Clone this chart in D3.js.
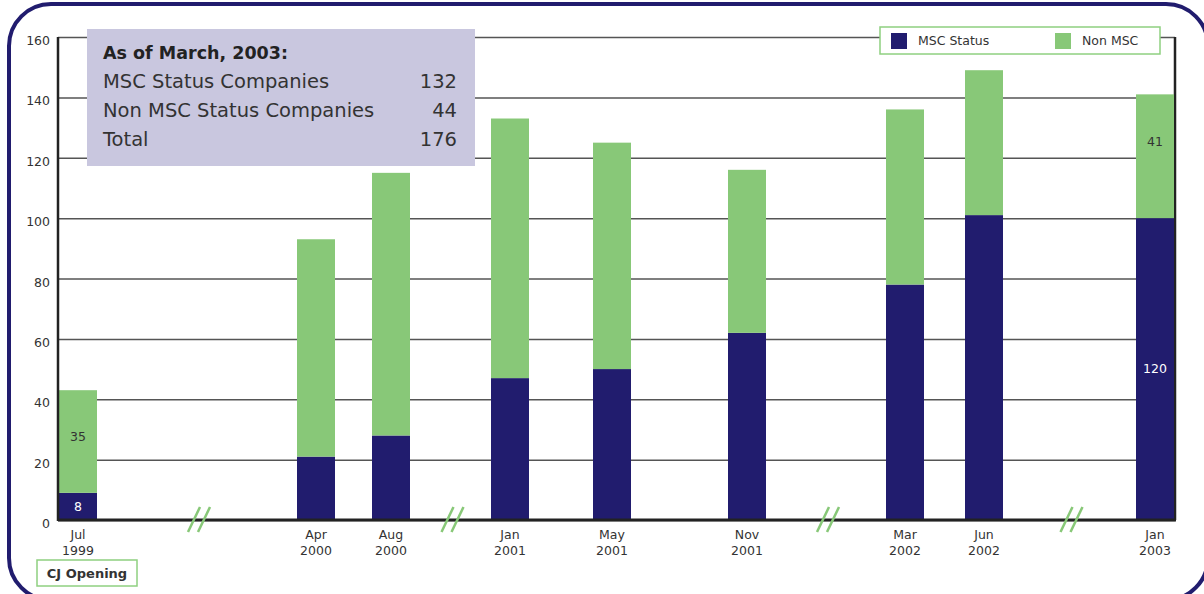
<!DOCTYPE html>
<html lang="en">
<head>
    <meta charset="UTF-8">
    <title>MSC companies</title>
    <script src="https://cdn.jsdelivr.net/npm/d3@7"></script>
    <style>
        body { margin: 0; background: #fff; font-family: 'DejaVu Sans', sans-serif; }
        svg { display: block; }
        text { fill: #333; }
    </style>
</head>
<body>
<div id="chart"></div>
<script type="text/javascript">
    // data
    var months = ["Jul", "Apr", "Aug", "Jan", "May", "Nov", "Mar", "Jun", "Jan"];
    var years = ["1999", "2000", "2000", "2001", "2001", "2001", "2002", "2002", "2003"];
    var mscValues = [9, 21, 28, 47, 50, 62, 78, 101, 100];
    var nonMscValues = [34, 72, 87, 86, 75, 54, 58, 48, 41];
    var mscLabels = ["8", "", "", "", "", "", "", "", "120"];
    var nonMscLabels = ["35", "", "", "", "", "", "", "", "41"];
    var yTicks = [0, 20, 40, 60, 80, 100, 120, 140, 160];
    var summaryTitle = "As of March, 2003:";
    var summaryRows = [["MSC Status Companies", "132"], ["Non MSC Status Companies", "44"], ["Total", "176"]];
    var seriesNames = ["MSC Status", "Non MSC"];

    // layout
    var w = 1204, h = 594;
    var pLeft = 58, pRight = 1175, pTop = 37, pBottom = 520;
    var slotCenters = [78, 316, 391, 510, 612, 747, 905, 984, 1155];  // uneven spacing, broken axis
    var barW = 38;
    var navy = "#211c6e", green = "#88c878";

    var svg = d3.select("#chart").append("svg")
        .attr("width", w).attr("height", h);

    // outer rounded frame
    svg.append("rect")
        .attr("x", 9).attr("y", 4)
        .attr("width", 1199).attr("height", 596)
        .attr("rx", 42).attr("ry", 42)
        .attr("fill", "none")
        .attr("stroke", navy)
        .attr("stroke-width", 4);

    var x = d3.scaleLinear().domain(d3.range(months.length)).range(slotCenters);
    var y = d3.scaleLinear().domain([0, 160]).range([pBottom, pTop]);

    // gridlines + y labels
    var yAxis = svg.append("g")
        .attr("transform", "translate(" + pLeft + ",0)")
        .call(d3.axisLeft(y).tickValues(yTicks).tickSize(-(pRight - pLeft)).tickPadding(8));
    yAxis.select(".domain").remove();
    yAxis.selectAll(".tick line").attr("stroke", "#555").attr("stroke-width", 1.5);
    yAxis.selectAll(".tick text")
        .attr("font-size", 12.5)
        .attr("font-family", "DejaVu Sans")
        .attr("fill", "#333")
        .attr("dy", "0.6em");

    // right edge of frame
    svg.append("line")
        .attr("x1", pRight).attr("x2", pRight)
        .attr("y1", pTop).attr("y2", pBottom)
        .attr("stroke", "#222").attr("stroke-width", 2.5);

    // bars
    var stack = months.map(function(m, i) {
        return {i: i, msc: mscValues[i], non: nonMscValues[i]};
    });
    var g = svg.append("g");
    g.selectAll(".msc").data(stack).enter().append("rect")
        .attr("class", "msc")
        .attr("x", function(d) { return x(d.i) - barW / 2; })
        .attr("width", barW)
        .attr("y", function(d) { return y(d.msc); })
        .attr("height", function(d) { return y(0) - y(d.msc); })
        .attr("fill", navy);
    g.selectAll(".non").data(stack).enter().append("rect")
        .attr("class", "non")
        .attr("x", function(d) { return x(d.i) - barW / 2; })
        .attr("width", barW)
        .attr("y", function(d) { return y(d.msc + d.non); })
        .attr("height", function(d) { return y(d.msc) - y(d.msc + d.non); })
        .attr("fill", green);

    // value labels
    g.selectAll(".mscLab").data(stack).enter().append("text")
        .attr("x", function(d) { return x(d.i); })
        .attr("y", function(d) { return y(d.msc / 2); })
        .attr("dy", "0.35em")
        .attr("text-anchor", "middle")
        .attr("font-size", 12.5)
        .style("fill", "#fff")
        .text(function(d) { return mscLabels[d.i]; });
    g.selectAll(".nonLab").data(stack).enter().append("text")
        .attr("x", function(d) { return x(d.i); })
        .attr("y", function(d) { return y(d.msc + d.non - 15.5); })
        .attr("dy", "0.35em")
        .attr("text-anchor", "middle")
        .attr("font-size", 12.5)
        .style("fill", "#333")
        .text(function(d) { return nonMscLabels[d.i]; });

    // axes lines
    svg.append("line")
        .attr("x1", pLeft).attr("x2", pLeft)
        .attr("y1", pTop).attr("y2", pBottom + 1)
        .attr("stroke", "#222").attr("stroke-width", 2.5);
    svg.append("line")
        .attr("x1", pLeft).attr("x2", pRight + 1)
        .attr("y1", pBottom).attr("y2", pBottom)
        .attr("stroke", "#222").attr("stroke-width", 3);

    // axis breaks
    var breaks = [0.5, 2.5, 5.5, 7.5];
    breaks.forEach(function(b) {
        var cx = x(b) + 2;
        [-5, 5].forEach(function(off) {
            svg.append("line")
                .attr("x1", cx + off - 6).attr("y1", pBottom + 12)
                .attr("x2", cx + off + 6).attr("y2", pBottom - 13)
                .attr("stroke", green).attr("stroke-width", 2.5);
        });
    });

    // x labels
    var xl = svg.append("g").selectAll("text").data(stack).enter().append("text")
        .attr("text-anchor", "middle")
        .attr("font-size", 12.5);
    xl.append("tspan").attr("x", function(d) { return x(d.i); }).attr("y", 539)
        .text(function(d) { return months[d.i]; });
    xl.append("tspan").attr("x", function(d) { return x(d.i); }).attr("y", 555)
        .text(function(d) { return years[d.i]; });

    // CJ Opening
    svg.append("rect")
        .attr("x", 37).attr("y", 560).attr("width", 100).attr("height", 26)
        .attr("fill", "#fff").attr("stroke", "#8fd080").attr("stroke-width", 1.5);
    svg.append("text")
        .attr("x", 87).attr("y", 578)
        .attr("text-anchor", "middle")
        .attr("font-size", 13).attr("font-weight", "bold")
        .text("CJ Opening");

    // summary box
    svg.append("rect")
        .attr("x", 87).attr("y", 29).attr("width", 388).attr("height", 137)
        .attr("fill", "#c9c7df");
    svg.append("text")
        .attr("x", 103).attr("y", 59)
        .attr("font-size", 17.5).attr("font-weight", "bold")
        .style("fill", "#222")
        .text(summaryTitle);
    summaryRows.forEach(function(r, i) {
        svg.append("text")
            .attr("x", 103).attr("y", 88 + i * 29)
            .attr("font-size", 19.5)
            .text(r[0]);
        svg.append("text")
            .attr("x", 457).attr("y", 88 + i * 29)
            .attr("text-anchor", "end")
            .attr("font-size", 19.5)
            .text(r[1]);
    });

    // legend
    svg.append("rect")
        .attr("x", 880).attr("y", 27).attr("width", 280).attr("height", 27)
        .attr("fill", "#fff").attr("stroke", "#8fd080").attr("stroke-width", 1.5);
    var legX = [891, 1055];
    [navy, green].forEach(function(c, i) {
        svg.append("rect")
            .attr("x", legX[i]).attr("y", 33).attr("width", 16).attr("height", 16)
            .attr("fill", c);
        svg.append("text")
            .attr("x", legX[i] + 27).attr("y", 45)
            .attr("font-size", 12.5)
            .text(seriesNames[i]);
    });
</script>
</body>
</html>
